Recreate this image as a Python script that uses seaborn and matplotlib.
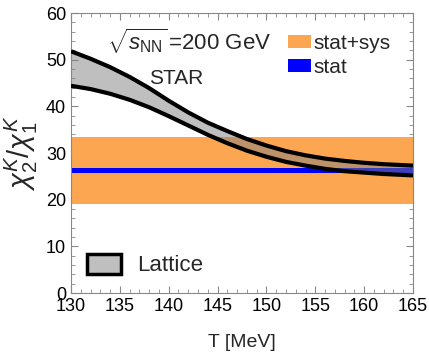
import matplotlib
matplotlib.use("Agg")
import matplotlib.pyplot as plt
from matplotlib.patches import Patch
from matplotlib.ticker import MultipleLocator
import seaborn as sns
import pandas as pd

# ---- data ----
T_vals = [130, 132, 134, 136, 138, 140, 142, 144, 146, 148, 150, 152, 154, 156, 158, 160, 162, 164, 165]
lattice_upper = [51.8, 50.2, 48.4, 46.3, 43.9, 41.2, 38.7, 36.5, 34.7, 33.0, 31.6, 30.4, 29.5, 28.8, 28.3, 27.9, 27.6, 27.4, 27.3]
lattice_lower = [44.4, 43.7, 42.7, 41.4, 39.8, 37.9, 35.9, 33.9, 32.1, 30.5, 29.2, 28.1, 27.3, 26.6, 26.1, 25.8, 25.5, 25.3, 25.2]
statsys_range = [19.1, 33.4]
stat_range = [25.8, 26.7]
x_ticks = [130, 135, 140, 145, 150, 155, 160, 165]
y_ticks = [0, 10, 20, 30, 40, 50, 60]

df = pd.DataFrame({"T": T_vals, "upper": lattice_upper, "lower": lattice_lower})

sns.set_theme(style="ticks")
plt.rcParams["font.family"] = ["Liberation Sans", "DejaVu Sans"]
plt.rcParams["mathtext.fontset"] = "custom"
plt.rcParams["mathtext.rm"] = "Liberation Sans"
plt.rcParams["mathtext.it"] = "Liberation Sans:italic"
plt.rcParams["mathtext.sf"] = "Liberation Sans"

fig = plt.figure(figsize=(4.29, 3.60), dpi=100)
ax = fig.add_axes([71 / 429, 1 - 293 / 360, 342 / 429, 280 / 360])

orange = "#FCA651"
blue = "#0000FF"

ax.axhspan(statsys_range[0], statsys_range[1], color=orange, lw=0, zorder=1)
ax.axhspan(stat_range[0], stat_range[1], color=blue, lw=0, zorder=2)
ax.fill_between(df["T"], df["lower"], df["upper"], color="#808080", alpha=0.5, lw=0, zorder=3)
sns.lineplot(data=df, x="T", y="upper", color="black", lw=3, ax=ax, zorder=4,
             solid_joinstyle="round", solid_capstyle="butt")
sns.lineplot(data=df, x="T", y="lower", color="black", lw=3, ax=ax, zorder=4,
             solid_joinstyle="round", solid_capstyle="butt")

ax.set_xlim(130, 165)
ax.set_ylim(0, 60)
ax.set_xticks(x_ticks)
ax.set_yticks(y_ticks)
ax.xaxis.set_minor_locator(MultipleLocator(1))
ax.yaxis.set_minor_locator(MultipleLocator(2))
ax.tick_params(which="both", direction="in", top=True, right=True, colors="#888888",
               labelcolor="black", labelsize=13)
ax.tick_params(which="major", length=5, width=0.8)
ax.tick_params(which="minor", length=3, width=0.6)
for s in ax.spines.values():
    s.set_color("#888888")
    s.set_linewidth(0.8)

ax.set_xlabel("T [MeV]", fontsize=14)
ax.xaxis.set_label_coords(0.5, -0.145)
ax.set_ylabel(r"$\chi_2^K/\chi_1^K$", fontsize=21)
ax.yaxis.set_label_coords(-0.09, 0.5)

ax.text((107 - 71) / 342, (293 - 50) / 280, r"$\sqrt{s_{\rm NN}}\,$=200 GeV", transform=ax.transAxes,
        fontsize=16, ha="left", va="baseline")
ax.text((176 - 71) / 342, (293 - 79) / 280, "STAR", transform=ax.transAxes,
        fontsize=15, ha="center", va="center")

h1 = [Patch(facecolor=orange, edgecolor="none"), Patch(facecolor=blue, edgecolor="none")]
leg1 = ax.legend(h1, ["stat+sys", "stat"], loc="center left",
                 bbox_to_anchor=((288 - 71) / 342, (293 - 55.5) / 280),
                 frameon=False, fontsize=15, borderpad=0, borderaxespad=0,
                 handlelength=1.1, handleheight=0.6, handletextpad=0.1, labelspacing=0.25)
ax.add_artist(leg1)
h2 = [Patch(facecolor="#BFBFBF", edgecolor="black", lw=2.5)]
ax.legend(h2, ["Lattice"], loc="center left",
          bbox_to_anchor=((87 - 71) / 342, (293 - 265) / 280),
          frameon=False, fontsize=16, borderpad=0, borderaxespad=0,
          handlelength=1.55, handleheight=1.0, handletextpad=0.7)

fig.savefig("out.png", dpi=100)
